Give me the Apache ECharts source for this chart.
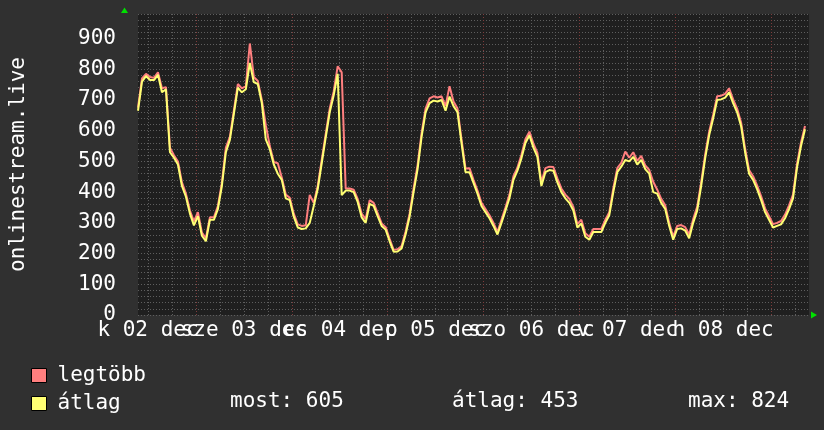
<!DOCTYPE html>
<html>
<head>
<meta charset="utf-8">
<script src="https://cdn.jsdelivr.net/npm/echarts@6/dist/echarts.min.js"></script>
<style>
html,body{margin:0;padding:0;background:#303030;}
#chart{width:824px;height:430px;}
</style>
</head>
<body>
<div id="chart"></div>
<script>
// Tick labels (one per day, centered at noon)
const dayLabels = ['k 02 dec', 'sze 03 dec', 'cs 04 dec', 'p 05 dec', 'szo 06 dec', 'v 07 dec', 'h 08 dec'];
const yAxisTitle = 'onlinestream.live';
const seriesNames = ['legtöbb', 'átlag'];
// Summary values
const statNow = 605;
const statAvg = 453;
const statMax = 824;

// Hourly values, starting at 02 dec 09:30
const maxValues = [
  675, 770, 785, 775, 772, 790, 738, 742, 545, 520,
  500, 432, 395, 340, 305, 335, 268, 250, 318, 318,
  355, 430, 545, 580, 665, 752, 738, 745, 884, 775,
  762, 700, 618, 550, 498, 494, 448, 392, 382, 330,
  295, 290, 292, 391, 365, 420, 505, 590, 672, 728,
  810, 790, 412, 412, 408, 378, 330, 312, 374, 365,
  332, 298, 286, 248, 212, 214, 225, 272, 330, 412,
  488, 592, 672, 705, 712, 708, 712, 680, 745, 695,
  672, 572, 477, 478, 440, 405, 365, 345, 325, 300,
  270, 310, 350, 392, 452, 480, 522, 572, 597, 558,
  528, 432, 478, 483, 482, 445, 412, 392, 378, 352,
  296, 310, 266, 255, 280, 280, 280, 310, 335, 412,
  478, 495, 532, 512, 530, 502, 518, 487, 472, 434,
  408, 378, 357, 300, 255, 290, 293, 286, 262, 312,
  352, 432, 522, 597, 652, 712, 714, 720, 738, 702,
  672, 627, 542, 472, 452, 422, 387, 347, 322, 296,
  300, 306, 327, 357, 392, 492, 562, 615
];
const avgValues = [
  665, 760, 778, 765, 765, 782, 725, 735, 530, 512,
  490, 420, 385, 330, 292, 322, 258, 240, 310, 310,
  345, 420, 530, 570, 655, 740, 725, 735, 821, 758,
  752, 690, 572, 540, 490, 460, 440, 380, 374, 320,
  285, 280, 282, 300, 355, 410, 494, 578, 660, 715,
  785, 390, 405, 405, 400, 368, 318, 300, 362, 355,
  322, 290, 278, 240, 206, 207, 217, 262, 320, 400,
  475, 580, 660, 690, 698, 695, 700, 665, 711, 680,
  660, 560, 465, 465, 430, 395, 355, 335, 315, 290,
  262, 300, 340, 380, 440, 470, 510, 560, 585, 545,
  515, 420, 465, 472, 470, 432, 400, 380, 365, 340,
  285, 298, 255, 245, 270, 270, 270, 300, 325, 400,
  465, 483, 505, 500, 515, 490, 505, 475, 460, 400,
  395, 365, 345, 290, 245, 280, 282, 275, 250, 300,
  340, 420, 510, 585, 640, 700, 702, 708, 725, 690,
  660, 615, 530, 460, 440, 410, 375, 335, 310, 285,
  290, 295, 315, 345, 380, 480, 550, 605
];

const HOURS = 168;             // one week shown
const SLOTS = HOURS * 2 + 1;   // half-hour slots for the grid
const NOON_SLOT = 5;           // 12:00 is 5 half-hours after 09:30
const MIDNIGHT_SLOT = 29;      // 00:00 is 29 half-hours after 09:30
const slots = [];
for (let i = 0; i < SLOTS; i++) slots.push(String(i));

const FONT = 'DejaVu Sans Mono';
const RED_GRID = '#7e3c3c';
const GRAY_GRID = '#5e5e5e';
const RED = '#ff7f7f';
const YELLOW = '#ffff73';

const redLineColors = [];
for (let v = 0; v <= 900; v += 100) redLineColors.push(RED_GRID);
redLineColors.push(GRAY_GRID);

// day index of a label slot, or -1
const dayOfSlot = (i) => (i >= NOON_SLOT && (i - NOON_SLOT) % 48 === 0) ? (i - NOON_SLOT) / 48 : -1;

function labelAxis(parity, withGrid) {
  const pick = (i) => { const d = dayOfSlot(i); return d >= 0 && d % 2 === parity; };
  return {
    type: 'category', data: slots, boundaryGap: false, position: 'bottom',
    axisLine: {show: false}, axisTick: {show: false},
    axisLabel: {
      show: true, color: '#ffffff', fontFamily: FONT, fontSize: 21, margin: 5,
      hideOverlap: false,
      interval: (i) => pick(i),
      formatter: (val, i) => pick(i) ? dayLabels[dayOfSlot(i)] : ''
    },
    splitLine: {show: withGrid, interval: (i) => (i - NOON_SLOT) % 12 === 0 && (i - MIDNIGHT_SLOT) % 48 !== 0,
      lineStyle: {color: GRAY_GRID, width: 1, type: [1, 2]}}
  };
}

const chart = echarts.init(document.getElementById('chart'), null, {renderer: 'canvas'});
chart.setOption({
  backgroundColor: '#303030',
  animation: false,
  grid: {left: 124, right: 15, top: 14, bottom: 115, show: true, backgroundColor: '#1f1f1f', borderWidth: 0},
  legend: {
    orient: 'vertical', left: 26, top: 360,
    itemWidth: 15, itemHeight: 14, itemGap: 7,
    icon: 'rect',
    data: seriesNames,
    itemStyle: {borderColor: '#000', borderWidth: 1},
    textStyle: {color: '#ffffff', fontFamily: FONT, fontSize: 21, padding: [0, 0, 0, 6]}
  },
  xAxis: [
    {type: 'value', min: 0, max: HOURS, show: false},
    labelAxis(0, true),
    labelAxis(1, false),
    {
      type: 'category', data: slots, boundaryGap: false, position: 'bottom',
      axisLine: {show: false}, axisTick: {show: false}, axisLabel: {show: false},
      splitLine: {show: true, interval: (i) => i >= MIDNIGHT_SLOT && (i - MIDNIGHT_SLOT) % 48 === 0,
        lineStyle: {color: RED_GRID, width: 1, type: [1, 2]}}
    }
  ],
  yAxis: [
    {
      type: 'value', min: 0, max: 980, interval: 100, position: 'left',
      axisLine: {show: false}, axisTick: {show: false},
      axisLabel: {color: '#ffffff', fontFamily: FONT, fontSize: 21, margin: 22, showMaxLabel: false, showMinLabel: true},
      splitLine: {show: true, lineStyle: {color: redLineColors, width: 1, type: [1, 2]}},
      name: yAxisTitle, nameLocation: 'middle', nameGap: 109, nameRotate: 90,
      nameTextStyle: {color: '#ffffff', fontFamily: FONT, fontSize: 21}
    },
    {
      type: 'value', min: 0, max: 980, interval: 20, position: 'left',
      axisLine: {show: false}, axisTick: {show: false}, axisLabel: {show: false},
      splitLine: {show: true, lineStyle: {color: GRAY_GRID, width: 1, type: [1, 2]}}
    }
  ],
  series: [
    {
      name: seriesNames[0], type: 'line', xAxisIndex: 0, yAxisIndex: 0,
      showSymbol: false, symbol: 'none',
      itemStyle: {color: RED}, lineStyle: {color: RED, width: 2},
      data: maxValues.map((v, i) => [i, v]), z: 3
    },
    {
      name: seriesNames[1], type: 'line', xAxisIndex: 0, yAxisIndex: 0,
      showSymbol: false, symbol: 'none',
      itemStyle: {color: YELLOW}, lineStyle: {color: YELLOW, width: 2},
      data: avgValues.map((v, i) => [i, v]), z: 4
    }
  ],
  graphic: [
    {type: 'polygon', shape: {points: [[124.5, 7.5], [121, 13], [128, 13]]}, style: {fill: '#00e000'}},
    {type: 'polygon', shape: {points: [[817, 315], [811, 311.5], [811, 318.5]]}, style: {fill: '#00e000'}},
    {type: 'text', left: 230, top: 391, style: {text: 'most: ' + statNow, fill: '#ffffff', font: '21px "DejaVu Sans Mono"'}},
    {type: 'text', left: 452, top: 391, style: {text: 'átlag: ' + statAvg, fill: '#ffffff', font: '21px "DejaVu Sans Mono"'}},
    {type: 'text', left: 688, top: 391, style: {text: 'max: ' + statMax, fill: '#ffffff', font: '21px "DejaVu Sans Mono"'}}
  ]
});
</script>
</body>
</html>
